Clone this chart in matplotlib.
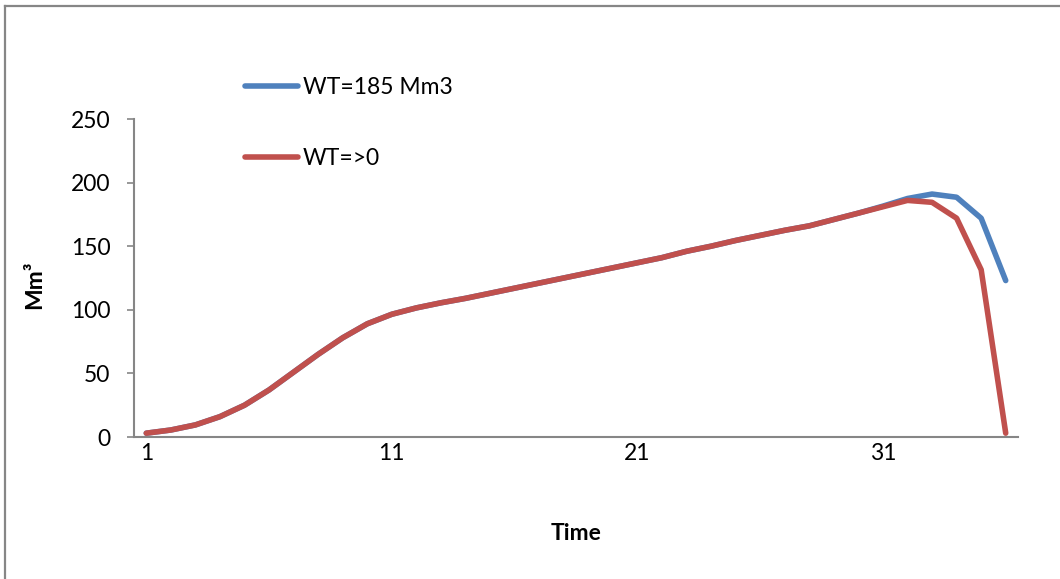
import matplotlib.pyplot as plt
from matplotlib.lines import Line2D

plt.rcParams["font.family"] = ["Lato", "DejaVu Sans"]

time = list(range(1, 37))
wt_185 = [3, 5.5, 9.5, 16, 25, 37, 51, 65, 78, 89, 96.5, 101.5, 105.5, 109, 113,
          117, 121, 125, 129, 133, 137, 141, 146, 150, 154.5, 158.5, 162.5, 166,
          171, 176, 181.5, 187.5, 191, 188.5, 172, 123]
wt_0 = [3, 5.5, 9.5, 16, 25, 37, 51, 65, 78, 89, 96.5, 101.5, 105.5, 109, 113,
        117, 121, 125, 129, 133, 137, 141, 146, 150, 154.5, 158.5, 162.5, 166,
        171, 176, 181, 186, 184.5, 172, 131.5, 3]
x_ticks = [1, 11, 21, 31]
y_ticks = [0, 50, 100, 150, 200, 250]

BLUE = "#4F81BD"
RED = "#C0504D"
AXIS = "#868686"
W, H = 1060, 579
FS = 16.5

fig = plt.figure(figsize=(10.6, 5.79), dpi=100)
ax = fig.add_axes([134 / W, (H - 437) / H, (1018 - 134) / W, (437 - 119) / H])

ax.plot(time, wt_185, color=BLUE, lw=4.0, solid_capstyle="round", label="WT=185 Mm3")
ax.plot(time, wt_0, color=RED, lw=4.0, solid_capstyle="round", label="WT=>0")

ax.set_xlim(0.5, 36.5)
ax.set_ylim(0, 250)
ax.set_xticks(x_ticks)
ax.set_yticks(y_ticks)
ax.tick_params(axis="x", length=0, pad=4, labelsize=FS)
ax.tick_params(axis="y", length=5, width=1.2, color=AXIS, direction="out", pad=12, labelsize=FS)
ax.spines[["top", "right"]].set_visible(False)
for s in ("left", "bottom"):
    ax.spines[s].set_color(AXIS)
    ax.spines[s].set_linewidth(1.5)

ax.set_xlabel("Time", fontsize=FS, fontweight="bold")
ax.xaxis.set_label_coords((576 - 134) / 884, -(523 - 437) / 318)
fig.text(35 / W, 1 - 285 / H, "Mm³", rotation=90, ha="center", va="center",
         fontsize=FS, fontweight="bold")

fig.legend(loc="upper left", bbox_to_anchor=(245 / W, 1 - 77 / H), frameon=False,
           fontsize=FS, handlelength=2.3, handletextpad=0.22, labelspacing=2.2,
           borderpad=0, borderaxespad=0)

# outer chart border (cropped on right and bottom)
fig.add_artist(Line2D([5 / W, 1], [1 - 6 / H, 1 - 6 / H], color=AXIS, lw=1.6))
fig.add_artist(Line2D([5 / W, 5 / W], [0, 1 - 6 / H], color=AXIS, lw=1.6))

fig.savefig("out.png", dpi=100)
